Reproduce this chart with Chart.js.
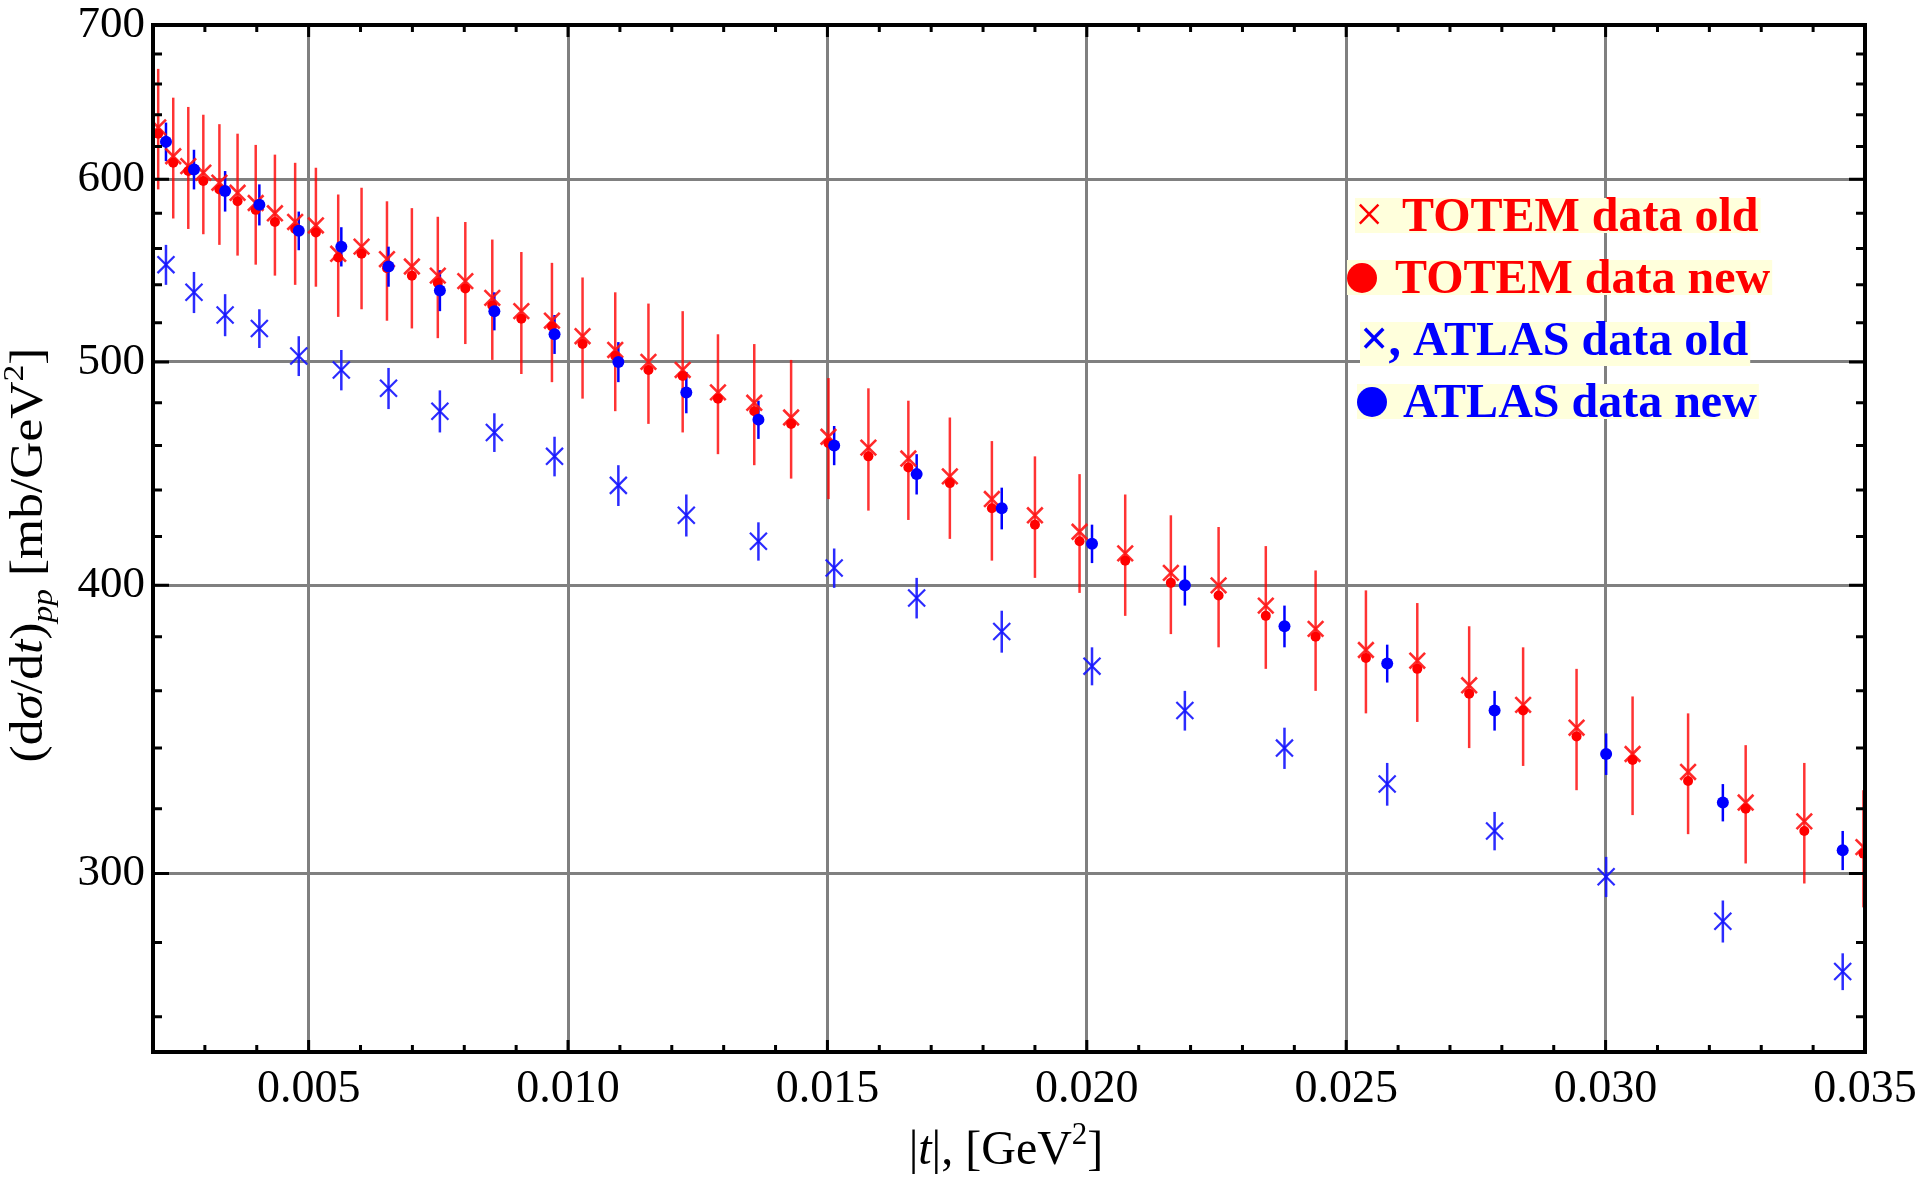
<!DOCTYPE html>
<html>
<head>
<meta charset="utf-8">
<title>TOTEM / ATLAS dσ/dt</title>
<script src="https://cdn.jsdelivr.net/npm/chart.js@4.4.1/dist/chart.umd.min.js"></script>
<style>
  html, body { margin: 0; padding: 0; background: #ffffff; }
  #wrap { position: relative; width: 1920px; height: 1180px; }
</style>
</head>
<body>
<div id="wrap"><canvas id="chart" width="1920" height="1180"></canvas></div>
<script>
// |t| values, GeV^2
const totemT = [
  0.00210, 0.00239, 0.00268, 0.00297, 0.00328, 0.00363, 0.00398, 0.00435, 0.00474, 0.00514,
  0.00557, 0.00602, 0.00651, 0.00699, 0.00749, 0.00802, 0.00854, 0.00910, 0.00969, 0.01028,
  0.01091, 0.01155, 0.01221, 0.01289, 0.01359, 0.01430, 0.01502, 0.01579, 0.01656, 0.01736,
  0.01817, 0.01900, 0.01986, 0.02074, 0.02162, 0.02254, 0.02345, 0.02441, 0.02538, 0.02637,
  0.02737, 0.02841, 0.02944, 0.03052, 0.03159, 0.03270, 0.03383, 0.03497
];
// dσ/dt, mb/GeV^2
const totemOld = [
  632, 614, 608, 604, 598, 592, 586, 580, 575, 573,
  557, 561, 554, 550, 545, 542, 533, 526, 521, 513,
  506, 500, 496, 485, 480, 473, 464, 459, 454, 446,
  436, 429, 422, 413, 405, 400, 392, 383, 375, 371,
  362, 355, 347, 338, 332, 322, 316, 308
];
const totemOldErr = [
  38, 37, 37, 36, 36, 36, 35, 35, 35, 34,
  34, 34, 33, 33, 33, 33, 32, 32, 31, 31,
  30, 30, 30, 29, 29, 28, 28, 28, 27, 27,
  26, 26, 25, 25, 24, 24, 24, 23, 23, 22,
  22, 21, 21, 20, 20, 19, 19, 18
];
const totemNew = [
  628, 610, 605, 599, 594, 587, 582, 575, 571, 569,
  555, 557, 549, 545, 541, 538, 529, 522, 518, 509,
  503, 496, 493, 482, 476, 470, 461, 455, 450, 443,
  432, 425, 418, 410, 401, 396, 388, 380, 372, 368,
  359, 353, 344, 336, 329, 320, 313, 306
];

const atlasT = [
  0.00225, 0.00279, 0.00339, 0.00405, 0.00481, 0.00563, 0.00654, 0.00753, 0.00858, 0.00974,
  0.01097, 0.01228, 0.01367, 0.01513, 0.01672, 0.01836, 0.02010, 0.02189, 0.02381, 0.02579,
  0.02786, 0.03001, 0.03226, 0.03457
];
const atlasOld = [
  551, 536, 524, 517, 503, 496, 487, 476, 466, 455,
  442, 429, 418, 407, 395, 382, 369, 353, 340, 328,
  313, 299, 286, 272
];
const atlasOldErr = [
  11, 11, 11, 10, 10, 10, 10, 10, 9, 9,
  9, 9, 8, 8, 8, 8, 7, 7, 7, 7,
  6, 6, 6, 5
];
const atlasNew = [
  623, 606, 593, 585, 570, 561, 550, 537, 526, 514,
  500, 485, 472, 460, 447, 432, 417, 400, 384, 370,
  353, 338, 322, 307
];
const atlasNewErr = [
  12, 12, 12, 12, 11, 11, 11, 11, 10, 10,
  10, 10, 9, 9, 9, 9, 8, 8, 8, 7,
  7, 7, 6, 6
];

const xTicks = [0.005, 0.010, 0.015, 0.020, 0.025, 0.030, 0.035];
const yTicks = [300, 400, 500, 600, 700];

const SERIF = "'Liberation Serif', 'Times New Roman', serif";
const RED = '#ff0000';
const BLUE = '#0000ff';

const pts = (xs, ys) => xs.map((x, i) => ({ x, y: ys[i] }));

// vertical error bars, drawn under the markers
const errorBars = {
  id: 'errorBars',
  beforeDatasetsDraw(chart) {
    const { ctx, chartArea: a, scales: { x, y } } = chart;
    ctx.save();
    ctx.beginPath();
    ctx.rect(a.left, a.top, a.width, a.height);
    ctx.clip();
    chart.data.datasets.slice().reverse().forEach(ds => {
      if (!ds.errors) return;
      ctx.strokeStyle = ds.errorColor;
      ctx.lineWidth = ds.errorWidth;
      ds.data.forEach((p, i) => {
        const px = x.getPixelForValue(p.x);
        ctx.beginPath();
        ctx.moveTo(px, y.getPixelForValue(p.y + ds.errors[i]));
        ctx.lineTo(px, y.getPixelForValue(p.y - ds.errors[i]));
        ctx.stroke();
      });
    });
    ctx.restore();
  }
};

// black frame with inward ticks on all four sides
const frame = {
  id: 'frame',
  afterDatasetsDraw(chart) {
    const { ctx, chartArea: a, scales: { x, y } } = chart;
    ctx.save();
    ctx.strokeStyle = '#000';
    ctx.lineWidth = 3;
    ctx.beginPath();
    for (let k = 2; k <= 35; k++) {
      const px = x.getPixelForValue(k / 1000);
      const len = (k % 5 === 0) ? 12 : 7;
      ctx.moveTo(px, a.bottom); ctx.lineTo(px, a.bottom - len);
      ctx.moveTo(px, a.top); ctx.lineTo(px, a.top + len);
    }
    for (let v = 260; v <= 700; v += 20) {
      const py = y.getPixelForValue(v);
      const len = (v % 100 === 0) ? 16 : 9;
      ctx.moveTo(a.left, py); ctx.lineTo(a.left + len, py);
      ctx.moveTo(a.right, py); ctx.lineTo(a.right - len, py);
    }
    ctx.stroke();
    ctx.lineWidth = 4;
    ctx.strokeRect(a.left, a.top, a.width, a.height);
    ctx.restore();
  }
};

function drawRich(ctx, parts, cx, baseY, size) {
  const fontOf = p => `${p.italic ? 'italic ' : ''}${Math.round(size * (p.scale || 1))}px ${SERIF}`;
  let total = 0;
  parts.forEach(p => { ctx.font = fontOf(p); p.w = ctx.measureText(p.t).width; total += p.w; });
  let x = cx - total / 2;
  ctx.textAlign = 'left';
  ctx.textBaseline = 'alphabetic';
  parts.forEach(p => {
    ctx.font = fontOf(p);
    ctx.fillText(p.t, x, baseY + (p.dy || 0) * size);
    x += p.w;
  });
}

const axisTitles = {
  id: 'axisTitles',
  afterDraw(chart) {
    const { ctx } = chart;
    ctx.save();
    ctx.fillStyle = '#000';
    drawRich(ctx, [
      { t: '|' }, { t: 't', italic: true }, { t: '|, [GeV' },
      { t: '2', scale: 0.65, dy: -0.42 }, { t: ']' }
    ], 1006, 1164, 48);
    ctx.translate(42, 555);
    ctx.rotate(-Math.PI / 2);
    ctx.scale(1.12, 1);
    drawRich(ctx, [
      { t: '(d' }, { t: 'σ', italic: true }, { t: '/d' }, { t: 't', italic: true }, { t: ')' },
      { t: 'pp', italic: true, scale: 0.65, dy: 0.22 }, { t: ' [mb/GeV' },
      { t: '2', scale: 0.65, dy: -0.42 }, { t: ']' }
    ], 0, 0, 46);
    ctx.restore();
  }
};

const legendRows = [
  { label: 'TOTEM data old', color: RED, mark: '×', markX: 1355, textX: 1402, base: 231 },
  { label: 'TOTEM data new', color: RED, dot: [1362, 278], textX: 1395, base: 293 },
  { label: 'ATLAS data old', color: BLUE, mark: '×,', markX: 1360, textX: 1413, base: 355 },
  { label: 'ATLAS data new', color: BLUE, dot: [1372, 402], textX: 1403, base: 417 }
];

const insetLegend = {
  id: 'insetLegend',
  afterDraw(chart) {
    const { ctx } = chart;
    ctx.save();
    ctx.textAlign = 'left';
    ctx.textBaseline = 'alphabetic';
    legendRows.forEach(r => {
      ctx.font = `bold 48px ${SERIF}`;
      const m = ctx.measureText(r.label);
      const left = r.dot ? r.dot[0] - 15 : r.markX;
      const right = r.textX + m.width + 2;
      let desc = 2;
      if (r.mark) {
        ctx.font = `${r.mark.length > 1 ? 'bold ' : ''}50px ${SERIF}`;
        desc = Math.max(desc, ctx.measureText(r.mark).actualBoundingBoxDescent + 2);
      }
      ctx.fillStyle = '#ffffdc';
      ctx.fillRect(left, r.base - 33, right - left, 33 + desc);
      ctx.fillStyle = r.color;
      if (r.dot) {
        ctx.beginPath();
        ctx.arc(r.dot[0], r.dot[1], 15, 0, Math.PI * 2);
        ctx.fill();
      } else {
        ctx.fillText(r.mark, r.markX, r.base);
      }
      ctx.font = `bold 48px ${SERIF}`;
      ctx.fillText(r.label, r.textX, r.base);
    });
    ctx.restore();
  }
};

new Chart(document.getElementById('chart'), {
  type: 'scatter',
  data: {
    datasets: [
      {
        label: 'ATLAS data new',
        data: pts(atlasT, atlasNew),
        errors: atlasNewErr, errorColor: BLUE, errorWidth: 2.5,
        pointStyle: 'circle', pointRadius: 6, pointBackgroundColor: BLUE,
        pointBorderColor: BLUE, pointBorderWidth: 0, order: 0
      },
      {
        label: 'ATLAS data old',
        data: pts(atlasT, atlasOld),
        errors: atlasOldErr, errorColor: 'rgba(20,20,255,0.9)', errorWidth: 2.5,
        pointStyle: 'crossRot', pointRadius: 12, pointBorderColor: 'rgba(20,20,255,0.9)',
        pointBorderWidth: 2.2, order: 1
      },
      {
        label: 'TOTEM data new',
        data: pts(totemT, totemNew),
        pointStyle: 'circle', pointRadius: 5, pointBackgroundColor: RED,
        pointBorderColor: RED, pointBorderWidth: 0, order: 2
      },
      {
        label: 'TOTEM data old',
        data: pts(totemT, totemOld),
        errors: totemOldErr, errorColor: 'rgba(255,0,0,0.8)', errorWidth: 2.5,
        pointStyle: 'crossRot', pointRadius: 11, pointBorderColor: 'rgba(255,20,20,0.9)',
        pointBorderWidth: 2.6, order: 3
      }
    ]
  },
  options: {
    responsive: false,
    animation: false,
    devicePixelRatio: 1,
    layout: { padding: { top: 25, right: 55, left: 0, bottom: 0 } },
    plugins: {
      legend: { display: false },
      tooltip: { enabled: false }
    },
    scales: {
      x: {
        type: 'linear',
        min: 0.002,
        max: 0.035,
        afterBuildTicks: s => { s.ticks = xTicks.map(v => ({ value: v })); },
        afterFit: s => { s.height = 128; s.paddingLeft = 0; s.paddingRight = 0; },
        ticks: {
          autoSkip: false, maxRotation: 0, padding: 10, color: '#000',
          font: { family: SERIF, size: 46 },
          callback: v => v.toFixed(3)
        },
        grid: { color: '#808080', lineWidth: 3, drawTicks: false },
        border: { display: false }
      },
      y: {
        type: 'logarithmic',
        min: 251,
        max: 700,
        afterBuildTicks: s => { s.ticks = yTicks.map(v => ({ value: v })); },
        afterFit: s => { s.width = 153; s.paddingTop = 0; s.paddingBottom = 0; },
        ticks: {
          autoSkip: false, padding: 8, color: '#000',
          font: { family: SERIF, size: 45 },
          callback: v => String(v)
        },
        grid: { color: '#808080', lineWidth: 3, drawTicks: false },
        border: { display: false }
      }
    }
  },
  plugins: [errorBars, frame, axisTitles, insetLegend]
});
</script>
</body>
</html>
